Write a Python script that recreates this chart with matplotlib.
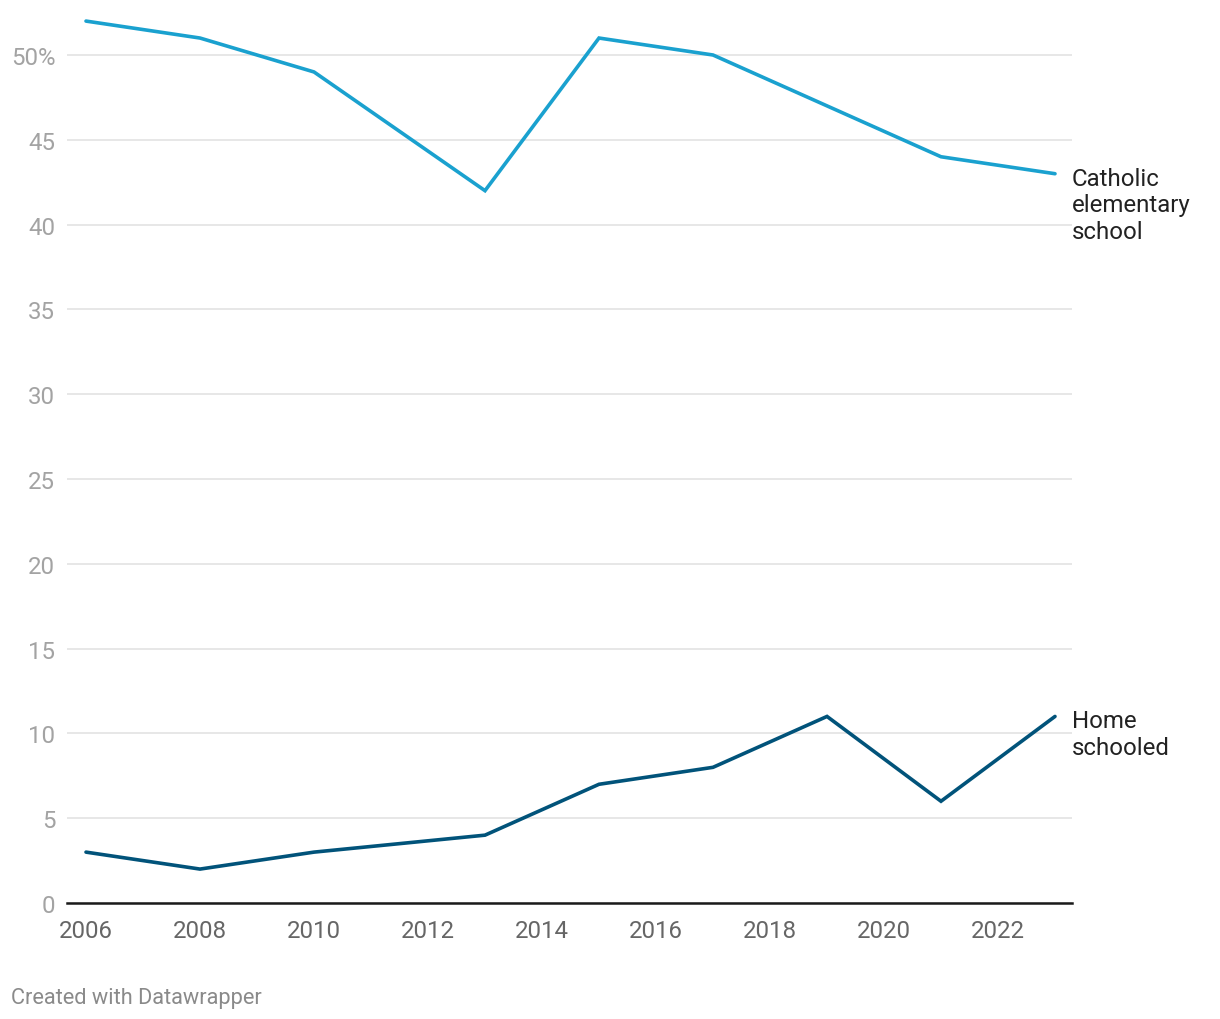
import matplotlib.pyplot as plt

years = [2006, 2008, 2010, 2013, 2015, 2017, 2019, 2021, 2023]
catholic = [52, 51, 49, 42, 51, 50, 47, 44, 43]
home = [3, 2, 3, 4, 7, 8, 11, 6, 11]

yticks = [0, 5, 10, 15, 20, 25, 30, 35, 40, 45, 50]
ytick_labels = ['0', '5', '10', '15', '20', '25', '30', '35', '40', '45', '50%']
xticks = [2006, 2008, 2010, 2012, 2014, 2016, 2018, 2020, 2022]

plt.rcParams['font.family'] = ['Roboto', 'DejaVu Sans']

fig = plt.figure(figsize=(12.2, 10.2), dpi=100)
ax = fig.add_axes([67/1220, 1-904/1020, (1072-67)/1220, 890.4/1020])

ax.plot(years, catholic, color='#1aa1cf', lw=2.6, solid_capstyle='round', solid_joinstyle='miter', zorder=3)
ax.plot(years, home, color='#01537a', lw=2.6, solid_capstyle='round', solid_joinstyle='miter', zorder=3)

ax.set_xlim(2006 - 19/57, 2023 + 17/57)
ax.set_ylim(0, 52.5)

ax.set_yticks(yticks)
ax.set_yticklabels(ytick_labels)
ax.set_xticks(xticks)
ax.tick_params(axis='y', length=0, pad=8.5, labelsize=17.3, labelcolor='#a3a3a3')
ax.tick_params(axis='x', length=0, pad=11.5, labelsize=17.3, labelcolor='#666666')
ax.grid(axis='y', color='#e3e3e3', lw=1.2, zorder=0)
for s in ['top', 'right', 'left']:
    ax.spines[s].set_visible(False)
ax.spines['bottom'].set_color('#1a1a1a')
ax.spines['bottom'].set_linewidth(1.8)
ax.spines['bottom'].set_zorder(4)

# direct labels at the end of each line
ax.annotate('Catholic\nelementary\nschool', xy=(1.0, catholic[-1]), xycoords=ax.get_yaxis_transform(),
            xytext=(0, 7), textcoords='offset pixels',
            ha='left', va='top', fontsize=17.3, color='#222222', linespacing=1.2)
ax.annotate('Home\nschooled', xy=(1.0, home[-1]), xycoords=ax.get_yaxis_transform(),
            xytext=(0, 7), textcoords='offset pixels',
            ha='left', va='top', fontsize=17.3, color='#222222', linespacing=1.2)

fig.text(11/1220, 1-999/1020, 'Created with Datawrapper', ha='left', va='center',
         fontsize=15.7, color='#8a8a8a')

fig.savefig('out.png', dpi=100)
